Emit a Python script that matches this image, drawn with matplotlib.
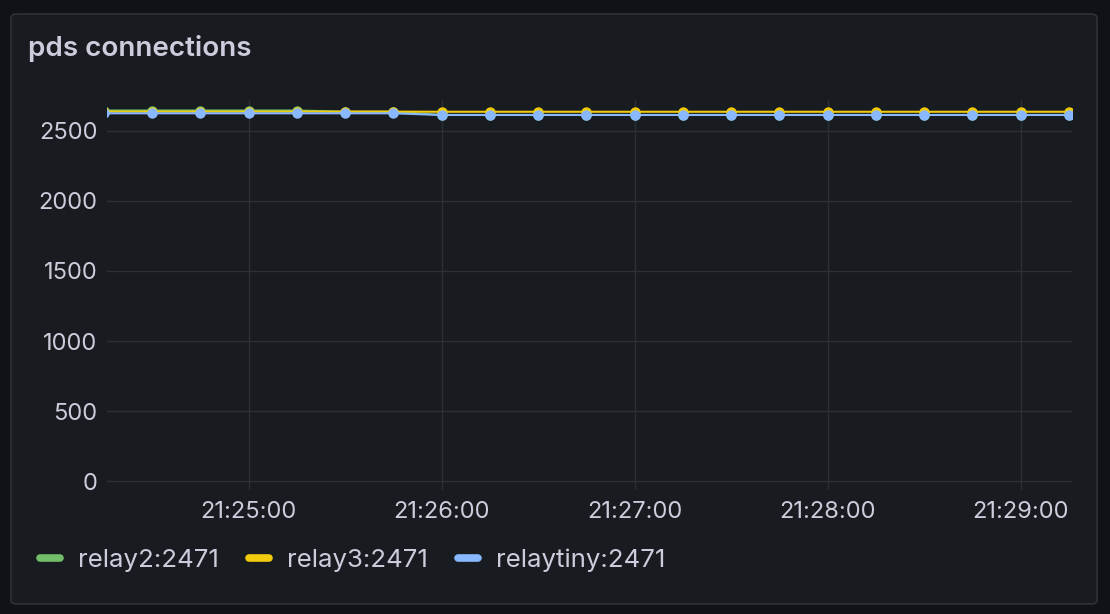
import matplotlib
matplotlib.use("Agg")
import matplotlib.pyplot as plt
import matplotlib.dates as mdates
from matplotlib.patches import FancyBboxPatch
from matplotlib.lines import Line2D
from datetime import datetime

plt.rcParams['font.family'] = ['Inter', 'DejaVu Sans']

# samples every 15s
times = ["21:24:15", "21:24:30", "21:24:45", "21:25:00", "21:25:15", "21:25:30", "21:25:45",
         "21:26:00", "21:26:15", "21:26:30", "21:26:45", "21:27:00", "21:27:15", "21:27:30",
         "21:27:45", "21:28:00", "21:28:15", "21:28:30", "21:28:45", "21:29:00", "21:29:15"]
relay2 = [2646, 2646, 2646, 2646, 2646, 2638, 2638,
          2614, 2614, 2614, 2614, 2614, 2614, 2614,
          2614, 2614, 2614, 2614, 2614, 2614, 2614]
relay3 = [2638, 2638, 2638, 2638, 2638, 2638, 2638,
          2637, 2637, 2637, 2637, 2637, 2637, 2637,
          2637, 2637, 2637, 2637, 2637, 2637, 2637]
relaytiny = [2626, 2626, 2626, 2626, 2626, 2626, 2626,
             2614, 2614, 2614, 2614, 2614, 2614, 2614,
             2614, 2614, 2614, 2614, 2614, 2614, 2614]
series_names = ["relay2:2471", "relay3:2471", "relaytiny:2471"]
series_colors = ["#73bf69", "#f2cc0c", "#8ab8ff"]
yticks = [0, 500, 1000, 1500, 2000, 2500]
xtick_times = ["21:25:00", "21:26:00", "21:27:00", "21:28:00", "21:29:00"]

t = [datetime.strptime("2024-01-01 " + s, "%Y-%m-%d %H:%M:%S") for s in times]
xt = [datetime.strptime("2024-01-01 " + s, "%Y-%m-%d %H:%M:%S") for s in xtick_times]

W, H = 1110, 614
fig = plt.figure(figsize=(W / 100, H / 100), dpi=100, facecolor="#111217")

# panel
panel = FancyBboxPatch((11 / W, 1 - 604 / H), 1086 / W, 590 / H,
                       boxstyle="round,pad=0,rounding_size=0.006",
                       transform=fig.transFigure, facecolor="#181b1f",
                       edgecolor="#2e3138", linewidth=1.2, zorder=-5)
fig.patches.append(panel)

fig.text(28 / W, 1 - 49 / H, "pds connections", color="#ccccdc", fontsize=20,
         fontweight="semibold", va="center", ha="left")

ax = fig.add_axes([107 / W, 1 - 490 / H, (1072 - 107) / W, (490 - 100) / H])
ax.set_zorder(2)
ax.set_facecolor("none")

for vals, name, col in zip([relay2, relay3, relaytiny], series_names, series_colors):
    ax.plot(t, vals, color=col, lw=1.5, marker="o", markersize=7.5,
            markeredgewidth=0, label=name, solid_capstyle="butt")

x0 = datetime.strptime("2024-01-01 21:24:16", "%Y-%m-%d %H:%M:%S")
x1 = datetime.strptime("2024-01-01 21:29:16", "%Y-%m-%d %H:%M:%S")
ax.set_xlim(x0, x1)
ax.set_ylim(-64, 2721)
ax.set_yticks(yticks)
ax.set_xticks(xt)
ax.xaxis.set_major_formatter(mdates.DateFormatter("%H:%M:%S"))

for sp in ax.spines.values():
    sp.set_visible(False)
ax.grid(True, color="#2c2f35", lw=1)
ax.set_axisbelow(True)
ax.tick_params(length=0, colors="#ccccdc", labelsize=17)
ax.tick_params(axis="y", pad=7)
ax.tick_params(axis="x", pad=8)

handles = [Line2D([0], [0], color=c, lw=5.5, solid_capstyle="round") for c in series_colors]
leg = fig.legend(handles, series_names, loc="center left", bbox_to_anchor=(40 / W, 1 - 560 / H),
                 ncol=3, frameon=False, fontsize=18.6, labelcolor="#ccccdc",
                 handlelength=0.78, handletextpad=0.7, columnspacing=1.15, borderpad=0,
                 borderaxespad=0)

fig.savefig("out.png", dpi=100, facecolor=fig.get_facecolor())
